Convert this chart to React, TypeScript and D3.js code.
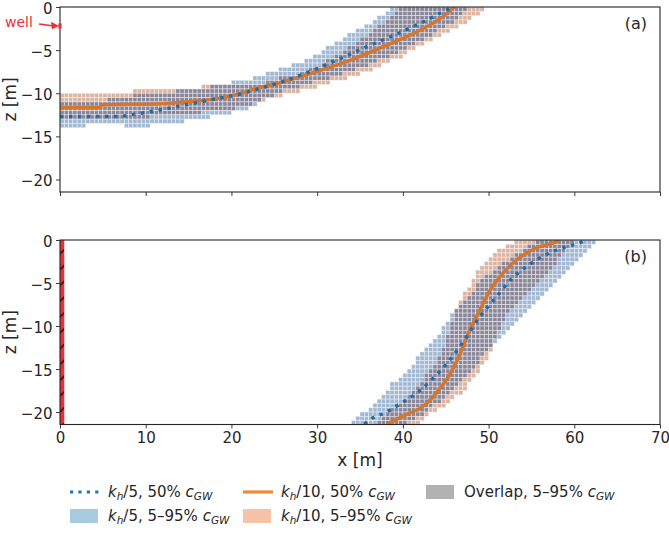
import * as d3 from 'd3';
import React, { useEffect, useRef } from 'react';

type Pt = [number, number];

const xTicks = [0, 10, 20, 30, 40, 50, 60, 70];
const zTicks = [0, -5, -10, -15, -20];

// (a) horizontal well: 5–95% envelopes as closed outlines [x, z]
const bandBlueA: Pt[] = [
  [0, -11.0], [4.5, -10.9], [9, -10.2], [14, -9.7], [18, -9.2], [21, -8.6], [24, -7.8],
  [27, -6.8], [30, -5.5], [33.8, -3.2], [36.9, -1.5], [38.9, 0],
  [47.8, 0], [46.3, -1.4], [44.5, -2.6], [42.5, -3.7], [40.5, -4.7], [38.5, -5.7],
  [36.5, -6.5], [34.3, -7.3], [31.5, -8.2], [28.5, -9.1], [26, -9.8], [23.5, -10.8],
  [22, -11.8], [19.8, -11.8], [19.8, -12.4], [17.3, -12.4], [17.3, -12.9], [14.6, -12.9],
  [14.6, -13.3], [10.7, -13.3], [10.7, -13.9], [7.3, -13.9], [7.3, -13.3], [3, -13.3],
  [3, -14], [0, -14],
];
const bandOrangeA: Pt[] = [
  [0, -10], [8.7, -10], [8.7, -9.5], [16.4, -9.5], [16.4, -9], [23.8, -9], [23.8, -8.5],
  [26, -8.2], [28, -7.8], [30, -6.9], [32, -5.8], [34, -4.5], [36, -3.1], [38, -1.6], [39.6, 0],
  [49.5, 0], [49.3, -0.5], [47.5, -1.7], [45.5, -2.9], [43.5, -3.8], [41.6, -4.8], [39.7, -5.8],
  [37.7, -6.7], [35.8, -7.5], [33.8, -8.1], [31.1, -8.9], [27.6, -9.85], [25.7, -10.4],
  [23.7, -10.8], [22.2, -11.4], [20, -11.8], [17, -12.2], [13, -12.6], [8, -12.9], [0, -12.9],
];
// (a) 50% concentration contours
const medianBlueA: Pt[] = [
  [0, -12.7], [6.6, -12.7], [8.9, -12.4], [11.3, -12.0], [14.4, -11.4], [17.9, -10.7],
  [21, -10.1], [23.3, -9.46], [26.4, -8.5], [29.6, -7.3], [32.7, -5.97], [35.8, -4.6],
  [38.9, -3.3], [42, -1.9], [45.1, -0.35], [45.8, 0],
];
const medianOrangeA: Pt[] = [
  [0, -11.65], [4.5, -11.65], [5, -11.35], [12, -11.2], [16, -10.9], [19, -10.5], [21, -10.05],
  [22.2, -9.65], [26, -8.7], [29.9, -7.5], [33.8, -6.2], [37.7, -4.6], [41.6, -2.9],
  [44.7, -1.1], [46, 0],
];

// (b) vertical well: 5–95% envelopes
const bandBlueB: Pt[] = [
  [34, -21.5], [34, -21.3], [35, -20.4], [35.8, -19.8], [36.9, -18.6], [38.1, -17.7],
  [38.9, -16.5], [40.1, -15.8], [41.2, -14.4], [42, -13.3], [43.2, -12.2], [44.1, -11.3],
  [44.7, -10.1], [45.8, -8.6], [47.2, -7], [48.5, -5.5], [50, -4], [52, -2.5], [54, -1.2], [56, 0],
  [63, 0], [61.8, -1.2], [60.3, -2.7], [58.7, -4.3], [57.2, -5.8], [55.2, -7.8], [53.3, -9.3],
  [51.6, -11], [50, -12.8], [48.3, -14.8], [46.7, -16.5], [45.2, -18], [43.5, -19.4],
  [41.8, -20.6], [40.3, -21.5],
];
const bandOrangeB: Pt[] = [
  [36.8, -21.5], [38, -20.3], [39.5, -19], [41, -17.7], [42.3, -16.3], [43.3, -15], [44.3, -13.5],
  [45, -12], [45.5, -10.5], [45.8, -9.2], [46.3, -8], [46.8, -6.8], [47.8, -5.2], [49.3, -2.8],
  [51, -1.3], [53.3, 0],
  [60.5, 0], [59.2, -1.2], [57.8, -2.7], [56.3, -4.3], [54.8, -5.8], [53, -7.8], [51.8, -9.3],
  [50.9, -11.2], [50.2, -13.2], [48.6, -15.5], [47.5, -17.1], [45.8, -18.6], [44.3, -19.6],
  [42.8, -20.5], [41.6, -21.5],
];
const medianBlueB: Pt[] = [
  [35.5, -21.4], [36.2, -20.85], [38.1, -20], [40.1, -18.8], [42, -17.5], [43.5, -16.1],
  [45.1, -14.4], [46.5, -12.6], [47.8, -10.7], [49, -8.9], [50.6, -7.0], [52.7, -4.5],
  [54.4, -3.1], [56.7, -1.7], [58.7, -0.9], [60.7, -0.3], [61.3, 0],
];
const medianOrangeB: Pt[] = [
  [38.1, -21.4], [40.4, -20.3], [42.4, -19.3], [43.9, -17.8], [45.5, -15.6], [46.7, -13.2],
  [47.8, -10.5], [49, -8.1], [50.2, -5.8], [51.3, -4.3], [53.3, -2.3], [55.6, -0.9],
  [57.9, -0.2], [58.3, 0],
];

const wellDepthA = -2.2;
const wellScreenB: [number, number] = [0, 0.5];

const FONT = '"DejaVu Sans", sans-serif';
const INK = '#262626';
const C = {
  blueCell: '#a2b8d3',
  orangeCell: '#dcb4a2',
  overlapCell: '#8b879a',
  blueLine: '#1f6eab',
  orangeLine: '#d5752e',
  well: '#e8303a',
};

const W = 669;
const H = 539;
const left = 60;
const right = 660;
const panels = [
  { top: 7, bottom: 192, bands: [bandBlueA, bandOrangeA], medians: [medianOrangeA, medianBlueA], tag: '(a)' },
  { top: 240, bottom: 424.5, bands: [bandBlueB, bandOrangeB], medians: [medianOrangeB, medianBlueB], tag: '(b)' },
];

const App: React.FC = () => {
  const svgRef = useRef<SVGSVGElement>(null);

  useEffect(() => {
    if (!svgRef.current) return;
    const svg = d3.select(svgRef.current);
    svg.selectAll('*').remove();

    const x = d3.scaleLinear().domain([0, 70]).range([left, right]);
    const defs = svg.append('defs');

    // hatch for the well screen
    const pat = defs.append('pattern')
      .attr('id', 'hatch')
      .attr('patternUnits', 'userSpaceOnUse')
      .attr('x', left)
      .attr('y', 249)
      .attr('width', 16).attr('height', 15.8);
    pat.append('rect').attr('width', 16).attr('height', 15.8).attr('fill', C.well);
    pat.append('path').attr('d', 'M0.3,4.6 L4.4,0.5').attr('stroke', '#111').attr('stroke-width', 1.5);

    panels.forEach((p, pi) => {
      const y = d3.scaleLinear().domain([-21.45, 0]).range([p.bottom, p.top]);
      const g = svg.append('g');

      defs.append('clipPath').attr('id', `clip${pi}`)
        .append('rect')
        .attr('x', left).attr('y', p.top)
        .attr('width', right - left).attr('height', p.bottom - p.top);

      const plot = g.append('g').attr('clip-path', `url(#clip${pi})`);

      // rasterise the envelopes on the 0.5 m model grid
      const step = 0.5;
      const cells: { x0: number; z0: number; fill: string }[] = [];
      d3.range(0, 70, step).forEach(x0 => {
        d3.range(0, -21.5, -step).forEach(z0 => {
          const c: [number, number] = [x0 + step / 2, z0 - step / 2];
          const inB = d3.polygonContains(p.bands[0], c);
          const inO = d3.polygonContains(p.bands[1], c);
          if (!inB && !inO) return;
          cells.push({ x0, z0, fill: inB && inO ? C.overlapCell : inB ? C.blueCell : C.orangeCell });
        });
      });

      plot.selectAll('rect.cell')
        .data(cells)
        .join('rect')
        .attr('class', 'cell')
        .attr('x', d => x(d.x0))
        .attr('y', d => y(d.z0))
        .attr('width', x(step) - x(0))
        .attr('height', y(-step) - y(0))
        .attr('fill', d => d.fill)
        .attr('stroke', '#fff')
        .attr('stroke-opacity', 0.55)
        .attr('stroke-width', 0.7);

      const line = d3.line<Pt>()
        .x(d => x(d[0]))
        .y(d => y(d[1]))
        .curve(d3.curveMonotoneX);

      plot.append('path')
        .datum(p.medians[0])
        .attr('fill', 'none')
        .attr('stroke', C.orangeLine)
        .attr('stroke-width', 3.4)
        .attr('d', line);

      plot.append('path')
        .datum(p.medians[1])
        .attr('fill', 'none')
        .attr('stroke', C.blueLine)
        .attr('stroke-width', 3.4)
        .attr('stroke-dasharray', '3.4,5.6')
        .attr('d', line);

      if (pi === 1) {
        plot.append('rect')
          .attr('x', x(wellScreenB[0]))
          .attr('y', p.top)
          .attr('width', x(wellScreenB[1]) - x(wellScreenB[0]))
          .attr('height', p.bottom - p.top)
          .attr('fill', 'url(#hatch)');
      }

      // frame
      g.append('rect')
        .attr('x', left).attr('y', p.top)
        .attr('width', right - left).attr('height', p.bottom - p.top)
        .attr('fill', 'none')
        .attr('stroke', INK)
        .attr('stroke-width', 1.1);

      // axes
      const xAxis = g.append('g')
        .attr('transform', `translate(0,${p.bottom})`)
        .call(d3.axisBottom(x).tickValues(xTicks).tickSize(4).tickPadding(4)
          .tickFormat(d => (pi === 1 ? String(d) : '')));
      const yAxis = g.append('g')
        .attr('transform', `translate(${left},0)`)
        .call(d3.axisLeft(y).tickValues(zTicks).tickSize(4).tickPadding(3.5)
          .tickFormat(d => String(d).replace('-', '\u2212')));
      [xAxis, yAxis].forEach(a => {
        a.select('.domain').remove();
        a.selectAll('line').attr('stroke', INK).attr('stroke-width', 0.9);
        a.selectAll('text')
          .attr('fill', INK)
          .style('font-family', FONT)
          .style('font-size', '15px');
      });
      yAxis.selectAll('text').attr('dy', '0.42em');

      g.append('text')
        .attr('transform', `translate(16,${(p.top + p.bottom) / 2}) rotate(-90)`)
        .attr('text-anchor', 'middle')
        .style('font-family', FONT)
        .style('font-size', '17px')
        .attr('fill', INK)
        .text('z [m]');

      g.append('text')
        .attr('x', 647)
        .attr('y', p.top + 22)
        .attr('text-anchor', 'end')
        .style('font-family', FONT)
        .style('font-size', '16px')
        .attr('fill', INK)
        .text(p.tag);

      if (pi === 0) {
        const wy = y(wellDepthA);
        g.append('line')
          .attr('x1', x(0)).attr('x2', x(0))
          .attr('y1', wy - 2.6).attr('y2', wy + 2.6)
          .attr('stroke', C.well).attr('stroke-width', 3.2);
        g.append('text')
          .attr('x', 5).attr('y', wy + 1.5)
          .style('font-family', FONT)
          .style('font-size', '14px')
          .attr('fill', C.well)
          .text('well');
        g.append('line')
          .attr('x1', 39).attr('y1', wy - 2)
          .attr('x2', 52).attr('y2', wy - 0.3)
          .attr('stroke', C.well).attr('stroke-width', 1.5);
        g.append('path')
          .attr('d', `M${left - 1},${wy} L${left - 9},${wy - 4.2} L${left - 8},${wy + 3.3} Z`)
          .attr('fill', C.well);
      }
    });

    svg.append('text')
      .attr('x', x(35))
      .attr('y', 466)
      .attr('text-anchor', 'middle')
      .style('font-family', FONT)
      .style('font-size', '17px')
      .attr('fill', INK)
      .text('x [m]');

    // legend
    const legend = svg.append('g').style('font-family', FONT).style('font-size', '15px');
    const items = [
      { col: 0, row: 0, kind: 'dot', pre: '/5, 50% ' },
      { col: 0, row: 1, kind: 'blue', pre: '/5, 5\u201395% ' },
      { col: 1, row: 0, kind: 'line', pre: '/10, 50% ' },
      { col: 1, row: 1, kind: 'orange', pre: '/10, 5\u201395% ' },
      { col: 2, row: 0, kind: 'grey', pre: 'Overlap, 5\u201395% ' },
    ];
    const colX = [70, 243, 426];
    const rowY = [492, 516];
    items.forEach(it => {
      const hx = colX[it.col];
      const hy = rowY[it.row];
      if (it.kind === 'dot' || it.kind === 'line') {
        legend.append('line')
          .attr('x1', hx).attr('x2', hx + 30)
          .attr('y1', hy).attr('y2', hy)
          .attr('stroke', it.kind === 'dot' ? '#1f77b4' : '#f0883a')
          .attr('stroke-width', 3.2)
          .attr('stroke-dasharray', it.kind === 'dot' ? '3.2,5.2' : null);
      } else {
        legend.append('rect')
          .attr('x', hx).attr('y', hy - 7)
          .attr('width', 28).attr('height', 14)
          .attr('fill', it.kind === 'blue' ? '#a8cbe1' : it.kind === 'orange' ? '#f4c3a8' : '#b2b2b2');
      }
      const t = legend.append('text')
        .attr('x', hx + 38)
        .attr('y', hy + 5)
        .attr('fill', INK);
      if (it.kind !== 'grey') {
        t.append('tspan').style('font-style', 'italic').text('k');
        t.append('tspan').style('font-style', 'italic').style('font-size', '10.5px').attr('dy', 3).text('h');
        t.append('tspan').attr('dy', -3).text(it.pre);
      } else {
        t.append('tspan').text(it.pre);
      }
      t.append('tspan').style('font-style', 'italic').text('c');
      t.append('tspan').style('font-style', 'italic').style('font-size', '10.5px').attr('dy', 3).text('GW');
    });
  }, []);

  return (
    <svg
      ref={svgRef}
      width={W}
      height={H}
      style={{ position: 'absolute', left: 0, top: 0, background: '#fff' }}
    />
  );
};

export default App;
